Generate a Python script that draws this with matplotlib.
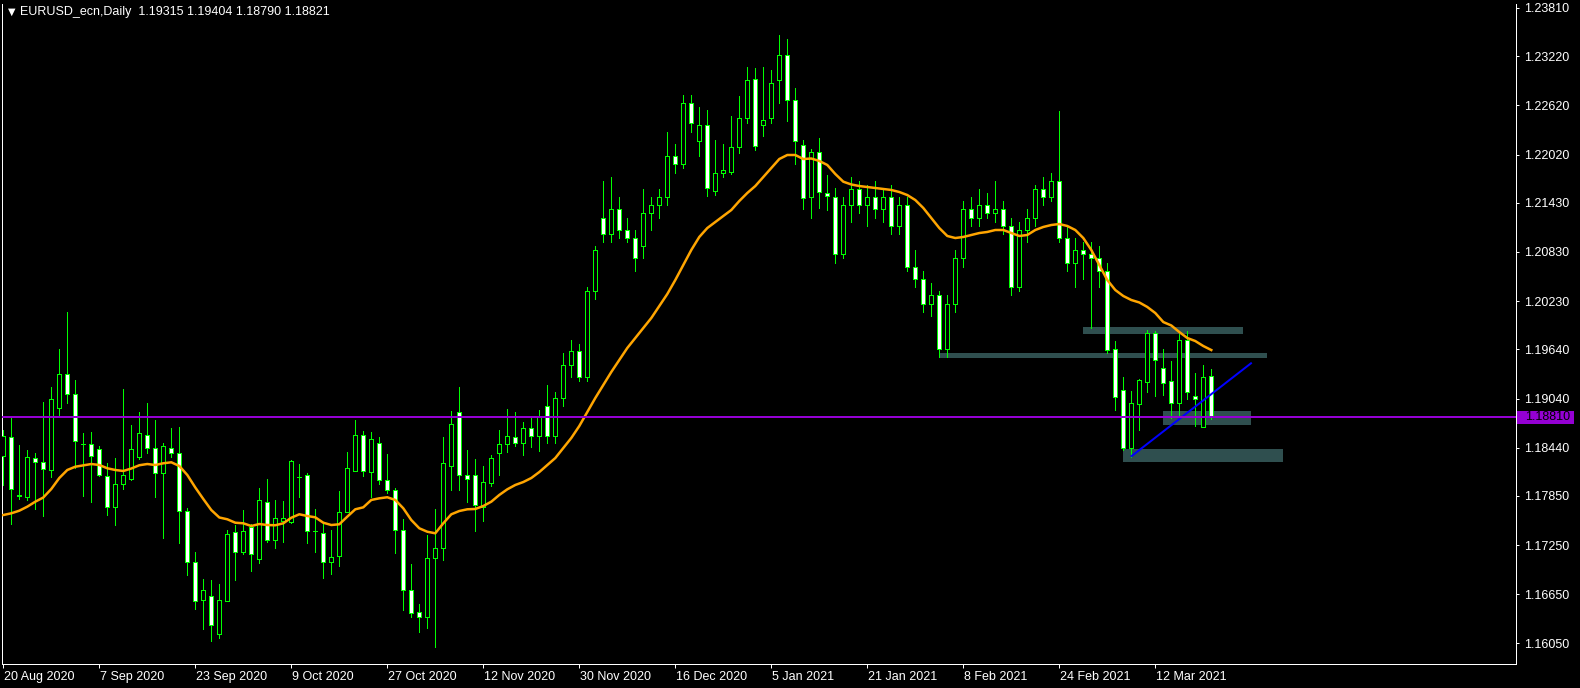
import matplotlib
matplotlib.use("Agg")
import matplotlib.pyplot as plt
import matplotlib.transforms as mtransforms
from matplotlib.patches import Rectangle

# EURUSD daily bars (bar 0 = 20 Aug 2020)
opens = [
    1.1834, 1.1857, 1.1786, 1.1784, 1.1831, 1.1827, 1.1817, 1.1893, 1.1934, 1.1909,
    1.1848, 1.1849, 1.1842, 1.1809, 1.1771, 1.1800, 1.1806, 1.1832, 1.1859, 1.1843,
    1.1813, 1.1844, 1.1837, 1.1767, 1.1704, 1.1658, 1.1663, 1.1616, 1.1657, 1.1741,
    1.1716, 1.1747, 1.1708, 1.1778, 1.1731, 1.1755, 1.1753, 1.1808, 1.1811, 1.1742,
    1.1740, 1.1704, 1.1712, 1.1766, 1.1815, 1.1859, 1.1814, 1.1850, 1.1805, 1.1792,
    1.1743, 1.1670, 1.1643, 1.1637, 1.1709, 1.1721, 1.1821, 1.1887, 1.1810, 1.1811,
    1.1771, 1.1801, 1.1837, 1.1848, 1.1857, 1.1850, 1.1868, 1.1858, 1.1895, 1.1858,
    1.1905, 1.1945, 1.1962, 1.1930, 1.2035, 1.2125, 1.2105, 1.2135, 1.2110, 1.2100,
    1.2090, 1.2130, 1.2140, 1.2150, 1.2200, 1.2190, 1.2265, 1.2218, 1.2238, 1.2158,
    1.2180, 1.2181, 1.2211, 1.2246, 1.2294, 1.2238, 1.2246, 1.2293, 1.2323, 1.2269,
    1.2214, 1.2150, 1.2205, 1.2155, 1.2150, 1.2080, 1.2140, 1.2160, 1.2140, 1.2150,
    1.2135, 1.2150, 1.2115, 1.2140, 1.2065, 1.2050, 1.2020, 1.2030, 1.1965, 1.2020,
    1.2075, 1.2135, 1.2125, 1.2140, 1.2130, 1.2135, 1.2115, 1.2040, 1.2110, 1.2125,
    1.2160, 1.2150, 1.2170, 1.2100, 1.2070, 1.2085, 1.2080, 1.2075, 1.2060, 1.1964,
    1.1914, 1.1844, 1.1897, 1.1924, 1.1984, 1.1941, 1.1925, 1.1899, 1.1976, 1.1907,
    1.1869, 1.19315,
]
highs = [
    1.1866, 1.1881, 1.1847, 1.1841, 1.1837, 1.1900, 1.1918, 1.1964, 1.2010, 1.1927,
    1.1862, 1.1863, 1.1846, 1.1825, 1.1831, 1.1916, 1.1872, 1.1887, 1.1898, 1.1878,
    1.1850, 1.1868, 1.1869, 1.1770, 1.1716, 1.1684, 1.1682, 1.1677, 1.1743, 1.1750,
    1.1768, 1.1751, 1.1795, 1.1806, 1.1780, 1.1779, 1.1829, 1.1824, 1.1813, 1.1769,
    1.1752, 1.1743, 1.1791, 1.1839, 1.1878, 1.1864, 1.1863, 1.1857, 1.1836, 1.1795,
    1.1757, 1.1702, 1.1653, 1.1737, 1.1769, 1.1857, 1.1889, 1.1918, 1.1841, 1.1830,
    1.1821, 1.1835, 1.1866, 1.1891, 1.1888, 1.1875, 1.1880, 1.1890, 1.1920, 1.1912,
    1.1960, 1.1975, 1.1970, 1.2040, 1.2090, 1.2170, 1.2175, 1.2150, 1.2125, 1.2110,
    1.2160, 1.2150, 1.2160, 1.2230, 1.2215, 1.2275, 1.2275, 1.2260, 1.2256, 1.2220,
    1.2215, 1.2249, 1.2274, 1.2309, 1.2308, 1.2309, 1.2305, 1.2348, 1.2343, 1.2283,
    1.2220, 1.2209, 1.2222, 1.2177, 1.2161, 1.2150, 1.2175, 1.2170, 1.2165, 1.2170,
    1.2160, 1.2165, 1.2150, 1.2150, 1.2085, 1.2060, 1.2045, 1.2035, 1.2030, 1.2085,
    1.2145, 1.2150, 1.2160, 1.2155, 1.2170, 1.2145, 1.2125, 1.2120, 1.2135, 1.2165,
    1.2175, 1.2180, 1.2255, 1.2115, 1.2100, 1.2095, 1.2095, 1.2090, 1.2070, 1.1974,
    1.1930, 1.1913, 1.1928, 1.1988, 1.1987, 1.1965, 1.1950, 1.1983, 1.1986, 1.1935,
    1.1945, 1.19404,
]
lows = [
    1.1798, 1.1751, 1.1781, 1.1780, 1.1769, 1.1760, 1.1808, 1.1882, 1.1899, 1.1819,
    1.1785, 1.1778, 1.1809, 1.1762, 1.1750, 1.1794, 1.1805, 1.1830, 1.1837, 1.1784,
    1.1734, 1.1832, 1.1728, 1.1689, 1.1647, 1.1623, 1.1608, 1.1612, 1.1657, 1.1682,
    1.1714, 1.1693, 1.1703, 1.1729, 1.1722, 1.1729, 1.1752, 1.1784, 1.1727, 1.1717,
    1.1685, 1.1690, 1.1700, 1.1766, 1.1815, 1.1809, 1.1784, 1.1800, 1.1789, 1.1715,
    1.1646, 1.1637, 1.1619, 1.1624, 1.1600, 1.1707, 1.1792, 1.1792, 1.1777, 1.1742,
    1.1755, 1.1797, 1.1811, 1.1839, 1.1846, 1.1835, 1.1845, 1.1840, 1.1850, 1.1850,
    1.1895, 1.1930, 1.1925, 1.1925, 1.2025, 1.2095, 1.2095, 1.2100, 1.2095, 1.2060,
    1.2075, 1.2110, 1.2125, 1.2140, 1.2180, 1.2185, 1.2230, 1.2200, 1.2151, 1.2152,
    1.2175, 1.2178, 1.2204, 1.2240, 1.2207, 1.2225, 1.2241, 1.2265, 1.2243, 1.2191,
    1.2135, 1.2125, 1.2137, 1.2134, 1.2070, 1.2075, 1.2120, 1.2130, 1.2115, 1.2125,
    1.2120, 1.2105, 1.2105, 1.2060, 1.2040, 1.2010, 1.2005, 1.1955, 1.1955, 1.2010,
    1.2065, 1.2115, 1.2115, 1.2125, 1.2120, 1.2105, 1.2030, 1.2035, 1.2095, 1.2115,
    1.2140, 1.2145, 1.2095, 1.2060, 1.2040, 1.2050, 1.1990, 1.2040, 1.1960, 1.1890,
    1.1841, 1.1833, 1.1866, 1.1912, 1.1907, 1.1908, 1.1880, 1.1884, 1.1904, 1.1870,
    1.1869, 1.18790,
]
closes = [
    1.1858, 1.1793, 1.1785, 1.1832, 1.1827, 1.1818, 1.1904, 1.1934, 1.1909, 1.1852,
    1.1849, 1.1834, 1.1810, 1.1771, 1.1800, 1.1811, 1.1842, 1.1862, 1.1843, 1.1813,
    1.1846, 1.1838, 1.1767, 1.1704, 1.1657, 1.1670, 1.1627, 1.1658, 1.1739, 1.1716,
    1.1742, 1.1714, 1.1780, 1.1731, 1.1758, 1.1758, 1.1828, 1.1808, 1.1742, 1.1742,
    1.1704, 1.1710, 1.1766, 1.1819, 1.1859, 1.1815, 1.1854, 1.1805, 1.1792, 1.1743,
    1.1670, 1.1642, 1.1637, 1.1709, 1.1721, 1.1825, 1.1873, 1.1810, 1.1806, 1.1774,
    1.1802, 1.1831, 1.1848, 1.1858, 1.1850, 1.1868, 1.1858, 1.1882, 1.1858, 1.1905,
    1.1945, 1.1962, 1.1930, 1.2035, 1.2085, 1.2105, 1.2135, 1.2110, 1.2100, 1.2075,
    1.2130, 1.2140, 1.2150, 1.2200, 1.2190, 1.2265, 1.2240, 1.2238, 1.2161, 1.2180,
    1.2183, 1.2211, 1.2246, 1.2293, 1.2213, 1.2244, 1.2289, 1.2324, 1.2269, 1.2218,
    1.2149, 1.2205, 1.2156, 1.2151, 1.2080, 1.2140, 1.2160, 1.2140, 1.2150, 1.2135,
    1.2150, 1.2115, 1.2140, 1.2065, 1.2050, 1.2020, 1.2030, 1.1965, 1.2020, 1.2075,
    1.2135, 1.2125, 1.2140, 1.2130, 1.2135, 1.2115, 1.2040, 1.2110, 1.2125, 1.2160,
    1.2150, 1.2170, 1.2100, 1.2070, 1.2085, 1.2080, 1.2075, 1.2060, 1.1963, 1.1906,
    1.1843, 1.1898, 1.1926, 1.1984, 1.1951, 1.1923, 1.1899, 1.1976, 1.1912, 1.1903,
    1.1930, 1.18821,
]
# moving average (orange line), one value per bar
ma_values = [
    1.17617, 1.17638, 1.17670, 1.17719, 1.17780, 1.17831, 1.17935, 1.18069, 1.18167, 1.18207,
    1.18224, 1.18240, 1.18228, 1.18188, 1.18167, 1.18155, 1.18185, 1.18225, 1.18240, 1.18228,
    1.18249, 1.18261, 1.18216, 1.18106, 1.17953, 1.17813, 1.17678, 1.17587, 1.17565, 1.17523,
    1.17516, 1.17483, 1.17507, 1.17495, 1.17492, 1.17516, 1.17584, 1.17626, 1.17605, 1.17589,
    1.17523, 1.17495, 1.17504, 1.17597, 1.17687, 1.17711, 1.17801, 1.17821, 1.17834, 1.17801,
    1.17699, 1.17556, 1.17455, 1.17413, 1.17394, 1.17516, 1.17626, 1.17666, 1.17687, 1.17691,
    1.17727, 1.17780, 1.17862, 1.17931, 1.17984, 1.18020, 1.18069, 1.18142, 1.18228, 1.18313,
    1.18436, 1.18558, 1.18704, 1.18875, 1.19046, 1.19205, 1.19364, 1.19510, 1.19657, 1.19779,
    1.19901, 1.20023, 1.20170, 1.20316, 1.20487, 1.20671, 1.20854, 1.21013, 1.21122, 1.21196,
    1.21269, 1.21342, 1.21452, 1.21550, 1.21635, 1.21745, 1.21855, 1.21965, 1.22014, 1.22014,
    1.21965, 1.21971, 1.21941, 1.21892, 1.21782, 1.21688, 1.21654, 1.21635, 1.21623, 1.21611,
    1.21599, 1.21587, 1.21562, 1.21525, 1.21464, 1.21367, 1.21245, 1.21122, 1.21025, 1.21000,
    1.21013, 1.21037, 1.21061, 1.21074, 1.21098, 1.21098, 1.21061, 1.21025, 1.21037, 1.21098,
    1.21135, 1.21159, 1.21171, 1.21147, 1.21098, 1.21000, 1.20854, 1.20671, 1.20487, 1.20365,
    1.20292, 1.20243, 1.20213, 1.20158, 1.20084, 1.19974, 1.19932, 1.19852, 1.19779, 1.19742,
    1.19681, 1.19632,
]

date_labels = ["20 Aug 2020", "7 Sep 2020", "23 Sep 2020", "9 Oct 2020", "27 Oct 2020",
               "12 Nov 2020", "30 Nov 2020", "16 Dec 2020", "5 Jan 2021", "21 Jan 2021",
               "8 Feb 2021", "24 Feb 2021", "12 Mar 2021"]
bars_per_label = 12
price_ticks = [1.23810, 1.23220, 1.22620, 1.22020, 1.21430, 1.20830, 1.20230,
               1.19640, 1.19040, 1.18440, 1.17850, 1.17250, 1.16650, 1.16050]
bid_price = 1.18810
title = "EURUSD_ecn,Daily  1.19315 1.19404 1.18790 1.18821"

# drawn objects: zones (bar from, bar to, price low, price high) and a trend line
zone_start = [135, 117, 145, 140]
zone_end = [155, 158, 156, 160]
zone_low = [1.19831, 1.19539, 1.18717, 1.18265]
zone_high = [1.19913, 1.19596, 1.18888, 1.18423]
trend_bars = [141.05, 155.96]
trend_prices = [1.18338, 1.19470]

W, H = 1580, 688
PX = 72 / 100  # one pixel in points
GREEN = "#00FF00"
fig = plt.figure(figsize=(W / 100, H / 100), dpi=100, facecolor="black")
ax = fig.add_axes([2 / W, 1 - 664 / H, 1514 / W, 660 / H], facecolor="black")

n = len(opens)
body_w = 0.5
for i in range(n):
    o, h, l, c = opens[i], highs[i], lows[i], closes[i]
    ax.vlines(i, l, h, color=GREEN, lw=PX, zorder=2, antialiased=False)
    if abs(c - o) < 1e-6:
        ax.hlines(o, i - body_w / 2, i + body_w / 2, color=GREEN, lw=PX, zorder=3,
                  antialiased=False)
        continue
    face = "black" if c > o else "white"
    ax.add_patch(Rectangle((i - body_w / 2, min(o, c)), body_w, abs(c - o),
                           facecolor=face, edgecolor=GREEN, lw=PX, zorder=3,
                           antialiased=False))

ax.plot(range(n), ma_values, color="#FFA500", lw=2.5 * PX, zorder=4)

for x0, x1, lo, hi in zip(zone_start, zone_end, zone_low, zone_high):
    ax.add_patch(Rectangle((x0, lo), x1 - x0, hi - lo, facecolor="#2F4F4F",
                           edgecolor="none", zorder=1))

ax.plot(trend_bars, trend_prices, color="#0000FF", lw=2 * PX, zorder=5)
ax.axhline(bid_price, color="#9400D3", lw=2 * PX, zorder=5)

ax.set_xlim((2 - 3.3) / 8, (1516 - 3.3) / 8)
ax.set_ylim(1.23907 - 664 * 0.00012213, 1.23907 - 4 * 0.00012213)

for side in ["left", "right", "bottom"]:
    ax.spines[side].set_color("white")
    ax.spines[side].set_linewidth(PX)
ax.spines["top"].set_visible(False)

ax.yaxis.tick_right()
ax.set_yticks(price_ticks)
ax.set_yticklabels([f"{p:.5f}" for p in price_ticks])
ax.tick_params(axis="y", colors="white", length=3 * PX, width=PX, pad=4,
               labelsize=9, labelcolor="white")

ax.set_xticks([k * bars_per_label for k in range(len(date_labels))])
ax.set_xticklabels(date_labels)
ax.tick_params(axis="x", colors="white", length=4 * PX, width=PX, pad=2,
               labelsize=9, labelcolor="white")
shift = mtransforms.ScaledTranslation(1 / 100, 0, fig.dpi_scale_trans)
for lab in ax.get_xticklabels():
    lab.set_ha("left")
    lab.set_transform(lab.get_transform() + shift)
for lab in ax.get_xticklabels() + ax.get_yticklabels():
    lab.set_fontfamily("Liberation Sans")

# bid price label on the price scale
blend = mtransforms.blended_transform_factory(ax.transAxes, ax.transData)
ax.add_patch(Rectangle((1.0005, bid_price - 0.00080), 57 / 1514, 0.00160,
                       transform=blend, facecolor="#9400D3", edgecolor="none",
                       clip_on=False, zorder=6))
ax.text(1 + 9 / 1514, bid_price, f"{bid_price:.5f}", transform=blend, color="black",
        fontsize=9, family="Liberation Sans", va="center", ha="left", zorder=7,
        clip_on=False)

fig.text(8 / W, 1 - 12 / H, "▼", color="white", fontsize=7, va="center", ha="left",
         family="DejaVu Sans")
fig.text(20 / W, 1 - 12 / H, title, color="white", fontsize=9, va="center", ha="left",
         family="Liberation Sans")

fig.savefig("out.png", dpi=100, facecolor="black")
